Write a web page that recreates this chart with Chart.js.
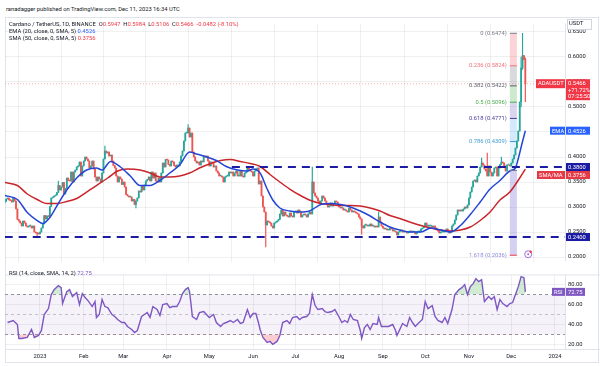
<!DOCTYPE html>
<html>
<head>
<meta charset="utf-8">
<script src="https://cdn.jsdelivr.net/npm/chart.js@4.4.0/dist/chart.umd.min.js"></script>
<style>
  html, body { margin: 0; padding: 0; background: #fff; }
  body { width: 600px; height: 366px; position: relative; overflow: hidden; font-family: Roboto, 'Liberation Sans', sans-serif; }
  #frame { position: absolute; left: 5px; top: 17px; width: 594px; height: 346px; border: 1px solid #e0e3eb; box-sizing: border-box; }
  canvas { position: absolute; left: 0; }
  #priceChart { top: 17px; }
  #rsiChart { top: 268px; }
  .txt { position: absolute; font-size: 5.8px; line-height: 7px; color: #131722; white-space: nowrap; }
  .red { color: #f23645; }
  .blue { color: #2962ff; }
  .purple { color: #7e57c2; }
</style>
</head>
<body>
<div id="frame"></div>
<canvas id="priceChart" width="600" height="251"></canvas>
<canvas id="rsiChart" width="600" height="98"></canvas>

<div class="txt" style="left:6px; top:6px;">ranadagger published on TradingView.com, Dec 11, 2023 16:34 UTC</div>
<div class="txt" style="left:9px; top:21px;">Cardano / TetherUS, 1D, BINANCE &nbsp;O<span class="red">0.5947</span> &nbsp;H<span class="red">0.5984</span> &nbsp;L<span class="red">0.5106</span> &nbsp;C<span class="red">0.5466</span> &nbsp;<span class="red">-0.0482 (-8.10%)</span></div>
<div class="txt" style="left:9px; top:28px;">EMA (20, close, 0, SMA, 5) <span class="blue">0.4526</span></div>
<div class="txt" style="left:9px; top:35px;">SMA (50, close, 0, SMA, 5) <span class="red">0.3756</span></div>
<div class="txt" style="left:9px; top:270px;">RSI (14, close, SMA, 14, 2) <span class="purple">72.75</span></div>

<script>
// days are counted from 1 Jan 2023 (day 0)
const firstDay = -25;          // 7 Dec 2022
const firstOpen = 0.309;

// daily closes, ADA/USDT
const closesDec22 = [0.311,0.316,0.318,0.314,0.313,0.310,0.318,0.312,0.296,0.275,0.272,0.268,0.262,0.272,0.268,0.262,0.260,0.262,0.262,0.258,0.262,0.250,0.248,0.247,0.246];
const closesJan = [0.250,0.258,0.266,0.283,0.276,0.282,0.281,0.301,0.318,0.320,0.322,0.324,0.329,0.343,0.334,0.340,0.349,0.326,0.337,0.358,0.353,0.352,0.370,0.350,0.370,0.374,0.380,0.382,0.390,0.362,0.382];
const closesFeb = [0.392,0.400,0.396,0.392,0.378,0.382,0.392,0.376,0.360,0.352,0.360,0.356,0.350,0.368,0.396,0.412,0.408,0.410,0.402,0.404,0.392,0.383,0.378,0.362,0.350,0.360,0.356,0.345];
const closesMar = [0.350,0.340,0.325,0.322,0.320,0.320,0.312,0.315,0.305,0.312,0.318,0.332,0.330,0.342,0.334,0.344,0.352,0.355,0.360,0.352,0.370,0.358,0.368,0.352,0.350,0.358,0.350,0.368,0.388,0.380,0.395];
const closesApr = [0.394,0.385,0.382,0.392,0.390,0.383,0.380,0.384,0.382,0.390,0.402,0.412,0.432,0.448,0.448,0.458,0.440,0.448,0.410,0.400,0.392,0.388,0.390,0.384,0.392,0.390,0.402,0.400,0.402,0.392];
const closesMay = [0.382,0.390,0.388,0.380,0.382,0.372,0.368,0.362,0.362,0.360,0.350,0.360,0.362,0.362,0.370,0.368,0.370,0.362,0.368,0.372,0.362,0.362,0.372,0.362,0.360,0.368,0.370,0.378,0.374,0.372,0.370];
const closesJun = [0.362,0.372,0.376,0.378,0.346,0.352,0.322,0.300,0.290,0.264,0.272,0.270,0.268,0.262,0.258,0.268,0.270,0.272,0.275,0.286,0.294,0.282,0.290,0.284,0.282,0.280,0.288,0.282,0.280,0.290];
const closesJul = [0.292,0.288,0.294,0.290,0.280,0.284,0.286,0.284,0.280,0.286,0.290,0.286,0.350,0.328,0.322,0.318,0.312,0.308,0.312,0.322,0.318,0.312,0.306,0.300,0.302,0.308,0.302,0.306,0.312,0.310,0.304];
const closesAug = [0.300,0.298,0.298,0.294,0.294,0.292,0.290,0.298,0.294,0.290,0.292,0.290,0.288,0.286,0.280,0.276,0.262,0.258,0.264,0.264,0.262,0.262,0.266,0.262,0.262,0.260,0.262,0.260,0.280,0.270,0.262];
const closesSep = [0.258,0.256,0.256,0.254,0.254,0.258,0.256,0.252,0.252,0.250,0.244,0.250,0.252,0.254,0.250,0.250,0.250,0.248,0.250,0.252,0.250,0.250,0.250,0.246,0.250,0.250,0.252,0.256,0.258,0.260];
const closesOct = [0.268,0.262,0.262,0.262,0.262,0.260,0.262,0.258,0.254,0.252,0.248,0.250,0.250,0.250,0.252,0.256,0.252,0.248,0.252,0.262,0.266,0.274,0.284,0.294,0.292,0.294,0.292,0.296,0.300,0.298,0.304];
const closesNov = [0.318,0.330,0.340,0.352,0.354,0.350,0.362,0.368,0.380,0.388,0.384,0.376,0.372,0.362,0.382,0.370,0.362,0.368,0.378,0.380,0.362,0.378,0.385,0.390,0.388,0.382,0.372,0.384,0.384,0.382];
const closesDec23 = [0.388,0.396,0.404,0.418,0.432,0.452,0.510,0.578,0.603,0.5947,0.5466];

// days with long wicks
const spikeDays  = [-2,    13,    46,    68,    105,   160,   193,   228,   240,   313,   317,   327,   341,   342,    344];
const spikeHighs = [null,  0.352, 0.422, null,  0.465, null,  0.380, null,  0.290, 0.398, 0.408, 0.400, 0.600, 0.6474, 0.5984];
const spikeLows  = [0.240, null,  null,  0.298, null,  0.220, null,  0.245, null,  null,  null,  null,  0.500, 0.575,  0.5106];

// EMA 20 and SMA 50
const emaDays = [-25,-16,-9,-2,2,7,13,19,26,33,40,44,50,57,64,71,78,85,92,99,106,111,118,125,132,140,147,151,156,161,165,170,177,184,191,199,206,213,220,227,234,241,248,255,262,270,277,284,291,298,305,312,319,326,333,337,339,342,344];
const emaValues = [0.323,0.315,0.289,0.273,0.267,0.279,0.307,0.334,0.358,0.374,0.378,0.374,0.391,0.380,0.362,0.343,0.343,0.353,0.368,0.384,0.410,0.406,0.400,0.393,0.381,0.374,0.372,0.376,0.368,0.336,0.314,0.298,0.292,0.290,0.292,0.305,0.307,0.305,0.300,0.292,0.282,0.270,0.260,0.254,0.250,0.250,0.258,0.254,0.250,0.263,0.285,0.310,0.336,0.353,0.372,0.378,0.397,0.431,0.4526];
const smaDays = [-25,-16,-9,-2,5,12,19,26,33,40,48,55,62,71,78,85,92,99,106,113,121,128,135,142,149,156,163,170,177,184,191,199,206,213,220,227,234,241,248,255,262,270,277,284,291,298,305,312,319,326,333,340,344];
const smaValues = [0.349,0.343,0.326,0.315,0.307,0.307,0.311,0.317,0.330,0.343,0.358,0.372,0.376,0.374,0.368,0.360,0.360,0.362,0.368,0.378,0.387,0.393,0.395,0.391,0.387,0.381,0.365,0.350,0.336,0.324,0.314,0.307,0.305,0.303,0.303,0.302,0.298,0.292,0.283,0.277,0.270,0.263,0.258,0.254,0.252,0.254,0.260,0.273,0.290,0.314,0.330,0.358,0.3756];

// RSI 14
const rsiDays = [-23,-19,-16,-15,-13,-9,-6,-4,-1,1,3,6,8,10,13,15,16,19,21,23,26,28,30,32,34,37,39,40,42,44,46,48,51,53,55,58,60,62,65,67,69,72,74,76,78,80,83,85,87,90,92,94,97,99,101,103,105,106,107,108,111,113,116,118,120,123,125,128,130,132,135,137,140,142,144,147,149,151,153,155,156,158,161,163,165,168,170,172,175,177,179,182,184,186,189,191,193,195,197,200,202,204,207,209,211,214,216,218,220,222,225,227,228,230,232,234,236,239,240,242,245,247,250,252,253,255,257,260,262,264,266,268,271,273,275,278,280,282,285,287,289,292,294,297,299,301,303,305,307,309,311,313,315,318,320,322,324,326,328,331,333,335,337,339,341,343,344];
const rsiValues = [42,44,40,26,26,27,35,27,29,34,50,56,70,75,79,77,61,73,75,68,72,60,71,67,64,58,63,47,50,65,58,57,50,48,45,42,42,38,35,32,34,48,50,52,47,58,55,49,60,61,57,58,58,63,71,75,77,73,61,48,45,52,53,50,47,50,42,38,41,42,44,42,45,41,42,55,47,51,51,41,35,27,22,23,20,23,29,42,44,41,47,48,45,47,48,51,70,59,55,56,53,52,53,55,50,42,44,42,50,45,44,34,26,37,40,35,41,40,47,38,38,38,40,34,29,35,41,38,47,42,38,41,45,63,56,59,48,44,42,47,41,55,70,75,77,80,70,78,81,86,83,85,63,68,65,68,55,65,61,58,61,62,70,78,88,87,72.75];

// axes
const monthDays = [0,31,59,90,120,151,181,212,243,273,304,334,365];
const monthLabels = ['2023','Feb','Mar','Apr','May','Jun','Jul','Aug','Sep','Oct','Nov','Dec','2024'];
const priceTicks = [0.20,0.25,0.30,0.35,0.40,0.45,0.50,0.55,0.60,0.65];
const rsiTicks = [20,40,60,80];

// horizontal support levels
const supportLevels = [0.38, 0.24];
const supportFromDays = [136, -25];

// fib retracement
const fibRatios = ['0','0.236','0.382','0.5','0.618','0.786','1','1.618'];
const fibPrices = [0.6474,0.5824,0.5422,0.5096,0.4771,0.4309,0.3731,0.2036];
const fibFromDay = 333, fibToDay = 338;

const lastPrice = 0.5466, emaLast = 0.4526, smaLast = 0.3756, rsiLast = 72.75;

const UP = '#26a69a', DOWN = '#ef5350';
const X_MIN = -24.8, X_MAX = 372.1;
const FONT = "Roboto, 'Liberation Sans', sans-serif";

const closes = [].concat(closesDec22, closesJan, closesFeb, closesMar, closesApr, closesMay,
  closesJun, closesJul, closesAug, closesSep, closesOct, closesNov, closesDec23);

const bodies = [], wicks = [], candleColors = [];
closes.forEach((c, i) => {
  const d = firstDay + i;
  const o = i === 0 ? firstOpen : closes[i - 1];
  let hi = Math.max(o, c), lo = Math.min(o, c);
  const s = spikeDays.indexOf(d);
  if (s >= 0) {
    if (spikeHighs[s] !== null) hi = spikeHighs[s];
    if (spikeLows[s] !== null) lo = spikeLows[s];
  }
  bodies.push({ x: d, y: [o, c] });
  wicks.push({ x: d, y: [lo, hi] });
  candleColors.push(c >= o ? UP : DOWN);
});

const pairs = (xs, ys) => xs.map((x, i) => ({ x: x, y: ys[i] }));

// draws a coloured tag with white text
function tag(ctx, text, x, y, w, h, bg, fg, border) {
  ctx.fillStyle = bg;
  ctx.fillRect(x, y, w, h);
  if (border) {
    ctx.strokeStyle = border;
    ctx.lineWidth = 1;
    ctx.strokeRect(x + 0.5, y + 0.5, w - 1, h - 1);
  }
  ctx.fillStyle = fg || '#fff';
  ctx.font = '5.8px ' + FONT;
  ctx.textBaseline = 'middle';
  ctx.textAlign = 'left';
  const lines = Array.isArray(text) ? text : [text];
  lines.forEach((t, i) => ctx.fillText(t, x + 2, y + 4.5 + i * 6.5));
}

const fibPlugin = {
  id: 'fib',
  beforeDatasetsDraw(chart) {
    const { ctx, scales: { x, y } } = chart;
    const x0 = x.getPixelForValue(fibFromDay), x1 = x.getPixelForValue(fibToDay);
    const fills = ['rgba(242,54,69,0.22)', 'rgba(120,123,134,0.28)', 'rgba(76,175,80,0.28)',
      'rgba(126,100,200,0.28)', 'rgba(100,181,246,0.28)', 'rgba(100,181,246,0.18)', 'rgba(120,110,215,0.32)'];
    ctx.save();
    for (let i = 0; i < fibPrices.length - 1; i++) {
      const ya = y.getPixelForValue(fibPrices[i]), yb = y.getPixelForValue(fibPrices[i + 1]);
      ctx.fillStyle = fills[i];
      ctx.fillRect(x0, ya, x1 - x0, yb - ya);
    }
    // last price line
    const py = y.getPixelForValue(lastPrice);
    ctx.strokeStyle = 'rgba(242,54,69,0.4)';
    ctx.setLineDash([1, 2]);
    ctx.lineWidth = 1;
    ctx.beginPath();
    ctx.moveTo(chart.chartArea.left, py);
    ctx.lineTo(chart.chartArea.right, py);
    ctx.stroke();
    ctx.restore();
  },
  afterDatasetsDraw(chart) {
    const { ctx, scales: { x, y } } = chart;
    const x0 = x.getPixelForValue(fibFromDay), x1 = x.getPixelForValue(fibToDay);
    const colors = ['#787b86', '#f0717a', '#5d606b', '#4caf50', '#4a3f9c', '#3d9bd1', '#787b86', '#8c8ce0'];
    ctx.save();
    ctx.font = '5.8px ' + FONT;
    ctx.textAlign = 'right';
    ctx.textBaseline = 'middle';
    fibPrices.forEach((p, i) => {
      const py = y.getPixelForValue(p);
      ctx.strokeStyle = i === fibPrices.length - 1 ? '#f23645' : colors[i];
      ctx.lineWidth = 1;
      ctx.beginPath();
      ctx.moveTo(x0, py);
      ctx.lineTo(x1, py);
      ctx.stroke();
      if (fibRatios[i] !== '1') {
        ctx.fillStyle = colors[i];
        ctx.fillText(fibRatios[i] + ' (' + p.toFixed(4) + ')', x0 - 3, py);
      }
    });
    // target marker next to the 1.618 level
    const cx = x.getPixelForValue(346), cy = y.getPixelForValue(fibPrices[7]) - 1;
    ctx.strokeStyle = '#9c6ade';
    ctx.lineWidth = 1;
    ctx.beginPath();
    ctx.arc(cx, cy, 3.5, 0, Math.PI * 2);
    ctx.stroke();
    ctx.fillStyle = '#f23645';
    ctx.beginPath();
    ctx.arc(cx + 2.5, cy - 2.5, 1.2, 0, Math.PI * 2);
    ctx.fill();
    ctx.fillStyle = '#9c6ade';
    ctx.beginPath();
    ctx.arc(cx, cy, 1, 0, Math.PI * 2);
    ctx.fill();
    ctx.restore();
  },
  afterDraw(chart) {
    const { ctx, chartArea, scales: { y } } = chart;
    const r = chartArea.right;
    ctx.save();
    ctx.strokeStyle = '#e0e3eb';
    ctx.beginPath();
    ctx.moveTo(r + 0.5, chartArea.top);
    ctx.lineTo(r + 0.5, chartArea.bottom);
    ctx.stroke();
    tag(ctx, 'USDT', r + 2, 2, 25, 11, '#fff', '#131722', '#d1d4dc');
    const py = y.getPixelForValue(lastPrice);
    tag(ctx, 'ADAUSDT', r - 29, py - 4.5, 29, 9, '#f23645');
    tag(ctx, ['0.5466', '+71.72%', '07:25:50'], r + 1, py - 4.5, 24, 21, '#f23645');
    const ey = y.getPixelForValue(emaLast);
    tag(ctx, 'EMA', r - 15, ey - 4, 15, 8, '#2962ff');
    tag(ctx, emaLast.toFixed(4), r + 1, ey - 4, 24, 8, '#2962ff');
    const s1 = y.getPixelForValue(supportLevels[0]);
    tag(ctx, supportLevels[0].toFixed(4), r + 1, s1 - 4, 24, 8, '#1c1ca3');
    const sy = Math.max(y.getPixelForValue(smaLast), s1 + 8);
    tag(ctx, 'SMA/MA', r - 28, sy - 4, 28, 8, '#e53946');
    tag(ctx, smaLast.toFixed(4), r + 1, sy - 4, 24, 8, '#e53946');
    const s2 = y.getPixelForValue(supportLevels[1]);
    tag(ctx, supportLevels[1].toFixed(4), r + 1, s2 - 4, 24, 8, '#1c1ca3');
    ctx.restore();
  }
};

const monthTicks = s => { s.ticks = monthDays.map(v => ({ value: v })); };
const gridColor = 'rgba(42,46,57,0.07)';

new Chart(document.getElementById('priceChart'), {
  type: 'bar',
  data: {
    datasets: [
      {
        type: 'line', label: 'support 0.38',
        data: [{ x: supportFromDays[0], y: supportLevels[0] }, { x: X_MAX, y: supportLevels[0] }],
        borderColor: '#1c1ca3', borderWidth: 2.2, borderDash: [8, 6], pointRadius: 0, order: 0
      },
      {
        type: 'line', label: 'support 0.24',
        data: [{ x: supportFromDays[1], y: supportLevels[1] }, { x: X_MAX, y: supportLevels[1] }],
        borderColor: '#1c1ca3', borderWidth: 2.2, borderDash: [8, 6], pointRadius: 0, order: 0
      },
      {
        type: 'line', label: 'EMA 20', data: pairs(emaDays, emaValues),
        borderColor: '#2446d6', borderWidth: 1.5, pointRadius: 0, cubicInterpolationMode: 'monotone', order: 1
      },
      {
        type: 'line', label: 'SMA 50', data: pairs(smaDays, smaValues),
        borderColor: '#c8262b', borderWidth: 1.5, pointRadius: 0, cubicInterpolationMode: 'monotone', order: 2
      },
      {
        label: 'bodies', data: bodies, backgroundColor: candleColors,
        barThickness: 1.1, grouped: false, minBarLength: 1, order: 3
      },
      {
        label: 'wicks', data: wicks, backgroundColor: candleColors,
        barThickness: 0.5, grouped: false, order: 4
      }
    ]
  },
  options: {
    responsive: false,
    animation: false,
    layout: { padding: { left: 5, top: 1, right: 0, bottom: 0 } },
    plugins: { legend: { display: false }, tooltip: { enabled: false } },
    scales: {
      x: {
        type: 'linear', min: X_MIN, max: X_MAX, offset: false,
        afterBuildTicks: monthTicks,
        afterFit: s => { s.height = 0; },
        ticks: { display: false },
        grid: { color: gridColor, drawTicks: false },
        border: { display: false }
      },
      y: {
        position: 'right', min: 0.191, max: 0.667,
        afterBuildTicks: s => { s.ticks = priceTicks.map(v => ({ value: v })); },
        afterFit: s => { s.width = 35; },
        ticks: { color: '#131722', font: { size: 5.8, family: FONT }, padding: 3, callback: v => v.toFixed(4) },
        grid: { color: gridColor, drawTicks: false },
        border: { display: false }
      }
    }
  },
  plugins: [fibPlugin]
});

const rsiPlugin = {
  id: 'rsiBands',
  beforeDatasetsDraw(chart) {
    const { ctx, chartArea: a, scales: { y } } = chart;
    const y70 = y.getPixelForValue(70), y50 = y.getPixelForValue(50), y30 = y.getPixelForValue(30);
    ctx.save();
    ctx.fillStyle = 'rgba(126,87,194,0.08)';
    ctx.fillRect(a.left, y70, a.right - a.left, y30 - y70);
    ctx.lineWidth = 0.8;
    ctx.setLineDash([3, 3]);
    [[y70, '#787b86'], [y50, '#b2b5be'], [y30, '#787b86']].forEach(([py, c]) => {
      ctx.strokeStyle = c;
      ctx.beginPath();
      ctx.moveTo(a.left, py);
      ctx.lineTo(a.right, py);
      ctx.stroke();
    });
    ctx.restore();
  },
  afterDraw(chart) {
    const { ctx, chartArea: a, scales: { y } } = chart;
    ctx.save();
    ctx.strokeStyle = '#e0e3eb';
    ctx.beginPath();
    ctx.moveTo(a.left, a.top + 0.5);
    ctx.lineTo(a.right + 35, a.top + 0.5);
    ctx.moveTo(a.left, a.bottom + 0.5);
    ctx.lineTo(a.right + 35, a.bottom + 0.5);
    ctx.moveTo(a.right + 0.5, a.top);
    ctx.lineTo(a.right + 0.5, a.bottom);
    ctx.stroke();
    const ry = y.getPixelForValue(rsiLast);
    tag(ctx, 'RSI', a.right - 13, ry - 4, 13, 8, '#7e57c2');
    tag(ctx, rsiLast.toFixed(2), a.right + 1, ry - 4, 19, 8, '#7e57c2');
    ctx.restore();
  }
};

new Chart(document.getElementById('rsiChart'), {
  type: 'line',
  data: {
    datasets: [
      {
        label: 'RSI', data: pairs(rsiDays, rsiValues),
        borderColor: '#7e57c2', borderWidth: 1.4, pointRadius: 0, tension: 0,
        fill: { target: { value: 70 }, above: 'rgba(76,175,80,0.25)', below: 'rgba(0,0,0,0)' }
      },
      {
        label: 'RSI oversold', data: pairs(rsiDays, rsiValues),
        borderWidth: 0, pointRadius: 0, tension: 0,
        fill: { target: { value: 30 }, above: 'rgba(0,0,0,0)', below: 'rgba(242,54,69,0.25)' }
      }
    ]
  },
  options: {
    responsive: false,
    animation: false,
    layout: { padding: { left: 5, top: 0, right: 0, bottom: 0 } },
    plugins: { legend: { display: false }, tooltip: { enabled: false } },
    scales: {
      x: {
        type: 'linear', min: X_MIN, max: X_MAX,
        afterBuildTicks: monthTicks,
        afterFit: s => { s.height = 17; },
        ticks: {
          color: '#131722', font: { size: 5.8, family: FONT }, padding: 4, maxRotation: 0, autoSkip: false,
          callback: v => monthLabels[monthDays.indexOf(v)]
        },
        grid: { color: gridColor, drawTicks: false },
        border: { display: false }
      },
      y: {
        position: 'right', min: 15.4, max: 90.2,
        afterBuildTicks: s => { s.ticks = rsiTicks.map(v => ({ value: v })); },
        afterFit: s => { s.width = 35; },
        ticks: { color: '#131722', font: { size: 5.8, family: FONT }, padding: 3, callback: v => v.toFixed(2) },
        grid: { color: gridColor, drawTicks: false },
        border: { display: false }
      }
    }
  },
  plugins: [rsiPlugin]
});
</script>
</body>
</html>
